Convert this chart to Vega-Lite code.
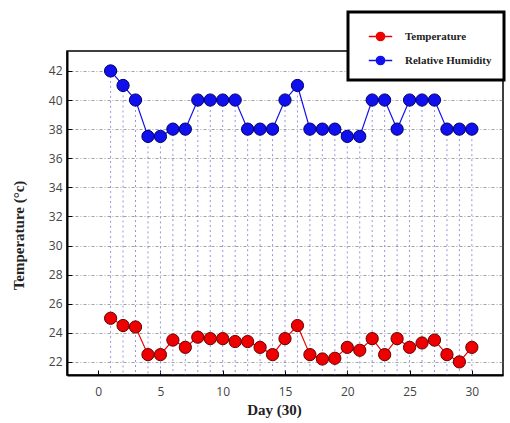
{
  "$schema": "https://vega.github.io/schema/vega-lite/v6.json",
  "autosize": {"type": "none"},
  "width": 436,
  "height": 324,
  "padding": {"left": 67, "top": 51, "right": 7, "bottom": 48},
  "background": "white",
  "data": {"values": [
    {"day":1,"series":"Temperature","value":25.0},{"day":2,"series":"Temperature","value":24.5},{"day":3,"series":"Temperature","value":24.4},
    {"day":4,"series":"Temperature","value":22.5},{"day":5,"series":"Temperature","value":22.5},{"day":6,"series":"Temperature","value":23.5},
    {"day":7,"series":"Temperature","value":23.0},{"day":8,"series":"Temperature","value":23.7},{"day":9,"series":"Temperature","value":23.6},
    {"day":10,"series":"Temperature","value":23.6},{"day":11,"series":"Temperature","value":23.4},{"day":12,"series":"Temperature","value":23.4},
    {"day":13,"series":"Temperature","value":23.0},{"day":14,"series":"Temperature","value":22.5},{"day":15,"series":"Temperature","value":23.6},
    {"day":16,"series":"Temperature","value":24.5},{"day":17,"series":"Temperature","value":22.5},{"day":18,"series":"Temperature","value":22.2},
    {"day":19,"series":"Temperature","value":22.25},{"day":20,"series":"Temperature","value":23.0},{"day":21,"series":"Temperature","value":22.8},
    {"day":22,"series":"Temperature","value":23.6},{"day":23,"series":"Temperature","value":22.5},{"day":24,"series":"Temperature","value":23.6},
    {"day":25,"series":"Temperature","value":23.0},{"day":26,"series":"Temperature","value":23.3},{"day":27,"series":"Temperature","value":23.5},
    {"day":28,"series":"Temperature","value":22.5},{"day":29,"series":"Temperature","value":22.0},{"day":30,"series":"Temperature","value":23.0},
    {"day":1,"series":"Relative Humidity","value":42},{"day":2,"series":"Relative Humidity","value":41},{"day":3,"series":"Relative Humidity","value":40},
    {"day":4,"series":"Relative Humidity","value":37.5},{"day":5,"series":"Relative Humidity","value":37.5},{"day":6,"series":"Relative Humidity","value":38},
    {"day":7,"series":"Relative Humidity","value":38},{"day":8,"series":"Relative Humidity","value":40},{"day":9,"series":"Relative Humidity","value":40},
    {"day":10,"series":"Relative Humidity","value":40},{"day":11,"series":"Relative Humidity","value":40},{"day":12,"series":"Relative Humidity","value":38},
    {"day":13,"series":"Relative Humidity","value":38},{"day":14,"series":"Relative Humidity","value":38},{"day":15,"series":"Relative Humidity","value":40},
    {"day":16,"series":"Relative Humidity","value":41},{"day":17,"series":"Relative Humidity","value":38},{"day":18,"series":"Relative Humidity","value":38},
    {"day":19,"series":"Relative Humidity","value":38},{"day":20,"series":"Relative Humidity","value":37.5},{"day":21,"series":"Relative Humidity","value":37.5},
    {"day":22,"series":"Relative Humidity","value":40},{"day":23,"series":"Relative Humidity","value":40},{"day":24,"series":"Relative Humidity","value":38},
    {"day":25,"series":"Relative Humidity","value":40},{"day":26,"series":"Relative Humidity","value":40},{"day":27,"series":"Relative Humidity","value":40},
    {"day":28,"series":"Relative Humidity","value":38},{"day":29,"series":"Relative Humidity","value":38},{"day":30,"series":"Relative Humidity","value":38}
  ]},
  "encoding": {
    "x": {"field": "day", "type": "quantitative",
      "scale": {"domain": [-2.5, 32.5], "nice": false, "zero": false},
      "axis": {"values": [0,5,10,15,20,25,30], "title": "Day (30)", "grid": false,
        "tickSize": -5, "tickColor": "black", "domainColor": "black", "domainWidth": 2,
        "labelFont": "Open Sans", "labelFontSize": 12, "labelColor": "#444", "labelPadding": 16,
        "titleFont": "Liberation Serif", "titleFontSize": 15, "titleFontWeight": "bold", "titleColor": "#222", "titlePadding": 5,
        "titleX": 207}},
    "y": {"field": "value", "type": "quantitative",
      "scale": {"domain": [21.1, 43.37], "nice": false, "zero": false},
      "axis": {"values": [22,24,26,28,30,32,34,36,38,40,42], "title": "Temperature (°c)",
        "grid": true, "gridColor": "#888", "gridDash": [3,2,1,2], "gridWidth": 0.8,
        "tickSize": -5, "tickColor": "black", "domainColor": "black", "domainWidth": 2,
        "labelFont": "Open Sans", "labelFontSize": 12, "labelColor": "#444", "labelPadding": 10,
        "titleFont": "Liberation Serif", "titleFontSize": 15, "titleFontWeight": "bold", "titleColor": "#222", "titlePadding": 22,
        "titleY": 184}},
    "color": {"field": "series", "type": "nominal",
      "scale": {"domain": ["Temperature", "Relative Humidity"], "range": ["#ee0000", "#1010ee"]},
      "legend": {"title": null, "orient": "none", "legendX": 281, "legendY": -39,
        "symbolType": "M-1,0L-0.35,0M0.35,0L1,0M-0.35,0A0.35,0.35,0,1,1,0.35,0A0.35,0.35,0,1,1,-0.35,0",
        "symbolSize": 550, "symbolStrokeWidth": 1.5, "symbolOffset": 8,
        "labelFont": "Liberation Serif", "labelFontSize": 11, "labelFontWeight": "bold", "labelColor": "#222",
        "strokeColor": "black", "padding": 12, "rowPadding": 4, "fillColor": "white",
        "labelLimit": 200, "labelOffset": 12,
        "encode": {"legend": {"update": {"strokeWidth": {"value": 3}}}}}}
  },
  "layer": [
    {
      "transform": [{"filter": "datum.series === 'Relative Humidity'"}],
      "mark": {"type": "rule", "strokeDash": [2,3], "strokeWidth": 1, "opacity": 0.7},
      "encoding": {"y2": {"datum": 21.1}, "color": {"value": "#6a6ad0"}}
    },
    {
      "mark": {"type": "line", "strokeWidth": 1.2}
    },
    {
      "mark": {"type": "point", "filled": true, "size": 150, "opacity": 1, "strokeWidth": 1},
      "encoding": {
        "stroke": {"field": "series", "type": "nominal",
          "scale": {"domain": ["Temperature", "Relative Humidity"], "range": ["#660000", "#000066"]},
          "legend": null}
      }
    }
  ],
  "config": {"view": {"stroke": "black", "strokeWidth": 1.5}}
}
